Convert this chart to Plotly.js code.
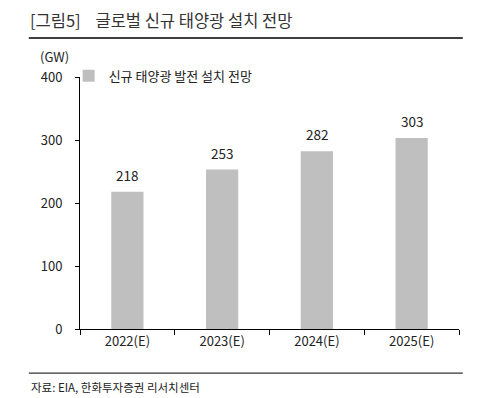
<!DOCTYPE html>
<html><head><meta charset="utf-8">
<script src="https://cdn.plot.ly/plotly-3.0.1.min.js"></script>
<style>body{margin:0;padding:0;background:#fff}#c{width:482px;height:398px}</style>
</head><body><div id="c"></div>
<script>
const categories = ["2022(E)", "2023(E)", "2024(E)", "2025(E)"];
const values = [218, 253, 282, 303];
const seriesName = "신규 태양광 발전 설치 전망";
const yTicks = [0, 100, 200, 300, 400];

const F = '"Noto Sans CJK KR", "Noto Sans", sans-serif';
const trace = {
  type: "bar", x: categories, y: values, name: seriesName,
  marker: {color: "#bfbfbf"}, width: 0.34, showlegend: true, hoverinfo: "none"
};
const labelAnns = categories.map((c, i) => ({
  x: c, y: values[i], xref: "x", yref: "y", text: String(values[i]), showarrow: false,
  yanchor: "middle", yshift: 17, font: {family: F, size: 13.5, color: "#222"}
}));
const layout = {
  width: 482, height: 398, paper_bgcolor: "#fff", plot_bgcolor: "#fff",
  margin: {l: 80, r: 23, t: 77, b: 69},
  font: {family: F, color: "#222", size: 13},
  bargap: 0.66,
  xaxis: {type: "category", showline: true, linecolor: "#000", linewidth: 1,
    ticks: "outside", tickson: "boundaries", ticklen: 5, tickcolor: "#000",
    showgrid: false, tickfont: {family: F, size: 13, color: "#222"}, fixedrange: true},
  yaxis: {range: [0, 400], tickvals: yTicks, showline: true, linecolor: "#000", linewidth: 1,
    ticks: "outside", ticklen: 4, tickcolor: "#000", showgrid: false, zeroline: false,
    tickfont: {family: F, size: 13, color: "#222"}, ticklabelstandoff: 10},
  showlegend: true,
  legend: {x: -0.03, y: 1.064, xanchor: "left", yanchor: "top", bgcolor: "rgba(0,0,0,0)",
    font: {family: F, size: 13, color: "#222"}, itemwidth: 30, traceorder: "normal"},
  title: {text: "[그림5]    글로벌 신규 태양광 설치 전망", x: 30 / 482, xanchor: "left", y: 1 - 21 / 398, yanchor: "middle",
    xref: "container", yref: "container", font: {family: F, size: 16.5, color: "#333"}},
  shapes: [
    {type: "line", xref: "paper", yref: "paper", x0: -0.135, x1: 1.01, y0: 1.155, y1: 1.155, line: {color: "#000", width: 1.5}},
    {type: "line", xref: "paper", yref: "paper", x0: -0.135, x1: 1.01, y0: -0.175, y1: -0.175, line: {color: "#000", width: 1}}
  ],
  annotations: [
    {text: "(GW)", xref: "paper", yref: "paper", x: -0.11, y: 1.08, xanchor: "left", yanchor: "middle", showarrow: false, font: {family: F, size: 13, color: "#222"}},
    {text: "자료: EIA, 한화투자증권 리서치센터", xref: "paper", yref: "paper", x: -0.135, y: -0.23, xanchor: "left", yanchor: "middle", showarrow: false, font: {family: F, size: 11.5, color: "#222"}}
  ].concat(labelAnns)
};
Plotly.newPlot("c", [trace], layout, {displayModeBar: false, staticPlot: true});
</script></body></html>
